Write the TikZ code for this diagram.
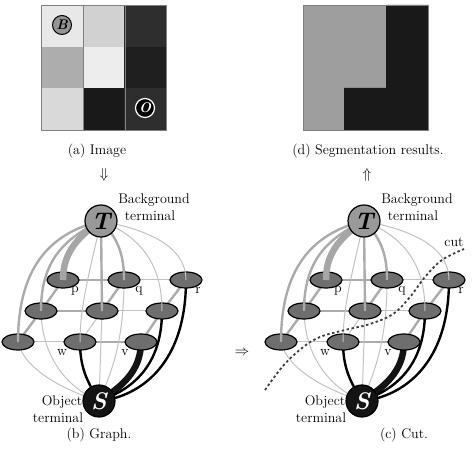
\documentclass[tikz,border=0pt]{standalone}
\usetikzlibrary{shapes.geometric}
\pgfdeclarelayer{edges}\pgfdeclarelayer{ells}\pgfdeclarelayer{tlinks}
\pgfsetlayers{edges,ells,tlinks,main}
\tikzset{
  pix/.style={ellipse, draw=black, line width=1.2pt, fill=black!57, minimum width=32pt, minimum height=16pt, inner sep=0pt},
  term/.style={circle, draw=black, line width=1.2pt, minimum size=32pt, inner sep=0pt, font=\fontsize{24}{24}\selectfont\bfseries\itshape},
  tterm/.style={fill=black!40},
  sterm/.style={fill=black!92, text=white},
  lbl/.style={font=\fontsize{14}{16}\selectfont, inner sep=0pt},
  gthick/.style={draw=black!35, line width=6.5pt},
  gmed/.style={draw=black!33, line width=2.4pt},
  gthin/.style={draw=black!24, line width=1pt},
  bmed/.style={draw=black, line width=2.4pt},
  bthick/.style={draw=black!92, line width=6.5pt},
  cutline/.style={draw=black!75, line width=1.8pt, dash pattern=on 2.5pt off 2.5pt},
  cellline/.style={draw=black!50, line width=0.6pt}
}
\newcommand{\graphpanel}[2]{%
\begin{scope}[xshift=#2]
\begin{pgfonlayer}{ells}
\node[pix] (#1a1) at (63,280) {};
\node[pix] (#1a2) at (124,280) {};
\node[pix] (#1a3) at (186,280) {};
\node[pix] (#1b1) at (41,311) {};
\node[pix] (#1b2) at (102,311) {};
\node[pix] (#1b3) at (162,311) {};
\node[pix] (#1c1) at (18,342) {};
\node[pix] (#1c2) at (80,342) {};
\node[pix] (#1c3) at (141,342) {};
\end{pgfonlayer}
\node[term,tterm] (#1T) at (101,221) {T};
\node[term,sterm] (#1S) at (99,401) {S};
\begin{pgfonlayer}{edges}
% n-links
\draw[gmed] (#1a1.center) -- (#1a2.center);
\draw[gthin] (#1a2.center) -- (#1a3.center);
\draw[gmed] (#1b1.center) -- (#1b2.center);
\draw[gthin] (#1b2.center) -- (#1b3.center);
\draw[gthin] (#1c1.center) -- (#1c2.center);
\draw[gmed] (#1c2.center) -- (#1c3.center);
\draw[gmed] (#1a1.center) -- (#1b1.center);
\draw[gmed] (#1b1.center) -- (#1c1.center);
\draw[gmed] (#1a2.center) -- (#1b2.center);
\draw[gthin] (#1b2.center) -- (#1c2.center);
\draw[gmed] (#1a3.center) -- (#1b3.center);
\draw[gmed] (#1b3.center) -- (#1c3.center);
% S-links
\draw[gthin] (#1c1.center) .. controls (25,372) and (70,392) .. (#1S.center);
\draw[gthin] (#1b1.center) .. controls (42,362) and (72,390) .. (#1S.center);
\draw[gthin] (#1b2.center) -- (#1S.center);
\draw[gthin] (#1a2.center) .. controls (124,340) and (112,372) .. (#1S.center);
\draw[bmed] (#1c2.center) .. controls (80,372) and (90,385) .. (#1S.center);
\draw[bthick] (#1c3.center) .. controls (141,372) and (120,388) .. (#1S.center);
\draw[bmed] (#1b3.center) .. controls (162,372) and (125,392) .. (#1S.center);
\draw[bmed] (#1a3.center) .. controls (186,372) and (132,398) .. (#1S.center);
\end{pgfonlayer}
\begin{pgfonlayer}{tlinks}
\draw[gmed] (#1T.center) .. controls (55,232) and (18,262) .. (#1c1.center);
\draw[gmed] (#1T.center) .. controls (60,240) and (41,265) .. (#1b1.center);
\draw[gthick] (#1T.center) .. controls (72,240) and (63,258) .. (#1a1.center);
\draw[gthin] (#1T.center) .. controls (90,270) and (80,305) .. (#1c2.center);
\draw[gmed] (#1T.center) -- (#1b2.center);
\draw[gmed] (#1T.center) .. controls (120,240) and (124,258) .. (#1a2.center);
\draw[gthin] (#1T.center) .. controls (150,240) and (162,275) .. (#1b3.center);
\draw[gthin] (#1T.center) .. controls (160,232) and (186,252) .. (#1a3.center);
\end{pgfonlayer}
\node[lbl] (#1lp) at (75,291) {p};
\node[lbl] (#1lq) at (139,291) {q};
\node[lbl] (#1lr) at (198,290) {r};
\node[lbl] (#1lw) at (62,353) {w};
\node[lbl] (#1lv) at (125,353) {v};
\node[lbl] (#1bg1) at (154,200) {Background};
\node[lbl] (#1bg2) at (150,216) {terminal};
\node[lbl] (#1ob1) at (62,402) {Object};
\node[lbl] (#1ob2) at (58,418) {terminal};
\end{scope}}
\begin{document}
\begin{tikzpicture}[x=1pt,y=-1pt]
\useasboundingbox (0,0) rectangle (474,462);
% (a) image
\fill[black!9]  (41,5) rectangle (82.67,46.67);
\fill[black!18] (82.67,5) rectangle (124.33,46.67);
\fill[black!82] (124.33,5) rectangle (166,46.67);
\fill[black!32] (41,46.67) rectangle (82.67,88.33);
\fill[black!7]  (82.67,46.67) rectangle (124.33,88.33);
\fill[black!88] (124.33,46.67) rectangle (166,88.33);
\fill[black!15] (41,88.33) rectangle (82.67,130);
\fill[black!90] (82.67,88.33) rectangle (124.33,130);
\fill[black!82] (124.33,88.33) rectangle (166,130);
\draw[cellline] (41,5) grid[step=41.67] (166,130);
\draw[cellline] (41,5) rectangle (166,130);
\node[circle, draw=black, line width=1pt, fill=black!42, minimum size=19pt, inner sep=0pt, font=\fontsize{14}{14}\selectfont\bfseries\itshape] (B) at (62,25) {B};
\node[circle, draw=white, line width=1.2pt, fill=black, minimum size=19pt, inner sep=0pt, text=white, font=\fontsize{14}{14}\selectfont\bfseries\itshape] (O) at (145,108) {O};
\node[lbl] (capa) at (97,151) {(a) Image};
\node[lbl] (arra) at (104,175) {$\Downarrow$};
% (d) segmentation
\fill[black!38] (303,5) rectangle (428,130);
\fill[black!90] (386,5) -- (428,5) -- (428,130) -- (344,130) -- (344,88) -- (386,88) -- cycle;
\draw[cellline] (303,5) rectangle (428,130);
\node[lbl] (capd) at (368,151) {(d) Segmentation results.};
\node[lbl] (arrd) at (367,175) {$\Uparrow$};
% graphs
\graphpanel{b}{0pt}
\graphpanel{c}{263pt}
\node[lbl] (capb) at (99,435) {(b) Graph.};
\node[lbl] (capc) at (404,435) {(c) Cut.};
\node[lbl] (arrbc) at (242,353) {$\Rightarrow$};
% cut
\draw[cutline] plot[smooth, tension=0.6] coordinates {(265,390) (283,366) (302,348) (320,337) (345,330) (370,324) (393,314) (410,297) (425,277) (442,260) (464,249)};
\node[lbl] (cutlbl) at (454,242) {cut};
\end{tikzpicture}
\end{document}
